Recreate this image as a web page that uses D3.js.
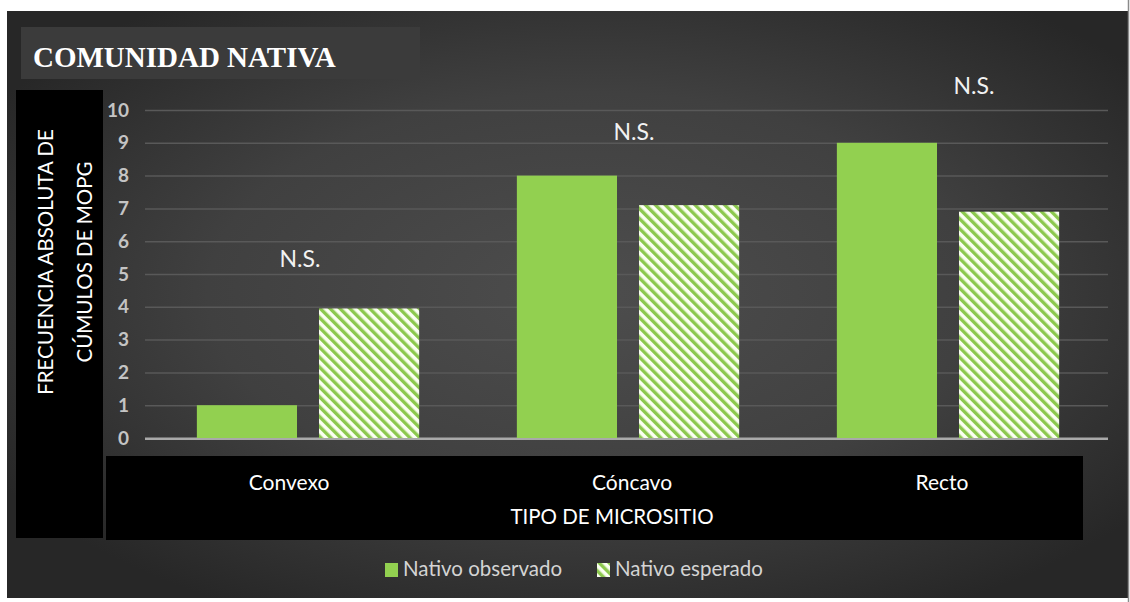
<!DOCTYPE html>
<html>
<head>
<meta charset="utf-8">
<script src="https://cdn.jsdelivr.net/npm/d3@7"></script>
<style>
  html, body { margin: 0; padding: 0; background: #ffffff; }
  svg { display: block; }
</style>
</head>
<body>
<script>
// Frequency of MOPG clusters per microsite type (native community)
const categories = ["Convexo", "Cóncavo", "Recto"];
const seriesNames = ["Nativo observado", "Nativo esperado"];
const observed = [1, 8, 9];
const expected = [3.95, 7.1, 6.9];
const yTicks = [0, 1, 2, 3, 4, 5, 6, 7, 8, 9, 10];
const significance = ["N.S.", "N.S.", "N.S."];
const significanceAt = [5.2, 9.1, 10.5];

const W = 1130, H = 602;
const green = "#92d050";
const sans = "Lato, 'Open Sans', sans-serif";

const svg = d3.select("body").append("svg")
  .attr("width", W).attr("height", H);

const defs = svg.append("defs");

// dark vignette background
const bg = defs.append("radialGradient")
  .attr("id", "bgGrad")
  .attr("cx", "52%").attr("cy", "48%").attr("r", "62%");
bg.append("stop").attr("offset", "0%").attr("stop-color", "#4d4d4d");
bg.append("stop").attr("offset", "55%").attr("stop-color", "#404040");
bg.append("stop").attr("offset", "100%").attr("stop-color", "#272727");

// wide downward-diagonal hatch for expected values
const hatch = defs.append("pattern")
  .attr("id", "hatch")
  .attr("patternUnits", "userSpaceOnUse")
  .attr("width", 7).attr("height", 7)
  .attr("patternTransform", "rotate(-45)");
hatch.append("rect").attr("width", 7).attr("height", 7).attr("fill", "#fbfff2");
hatch.append("rect").attr("width", 3.4).attr("height", 7).attr("fill", "#8cc84e");

// chart frame
svg.append("rect")
  .attr("x", 7).attr("y", 11).attr("width", 1121).attr("height", 587)
  .attr("fill", "url(#bgGrad)");
svg.append("line")
  .attr("x1", 1128.5).attr("x2", 1128.5).attr("y1", 0).attr("y2", H)
  .attr("stroke", "#8a8a8a").attr("stroke-width", 1.5);

// title box
svg.append("rect")
  .attr("x", 21).attr("y", 27).attr("width", 399).attr("height", 52)
  .attr("fill", "#3b3b3b");
svg.append("text")
  .attr("x", 33).attr("y", 67)
  .attr("font-family", "'Liberation Serif', 'Times New Roman', serif")
  .attr("font-weight", "bold")
  .attr("font-size", 29)
  .attr("fill", "#ffffff")
  .text("COMUNIDAD NATIVA");

// axis title panels
svg.append("rect")
  .attr("x", 16).attr("y", 90).attr("width", 87).attr("height", 448)
  .attr("fill", "#000000");
svg.append("rect")
  .attr("x", 106).attr("y", 456).attr("width", 977).attr("height", 84)
  .attr("fill", "#000000");

// scales
const x = d3.scaleBand().domain(categories).range([148, 1108]);
const xInner = d3.scaleBand().domain(seriesNames)
  .range([0, x.bandwidth()]).paddingInner(0.18).paddingOuter(0.4);
const y = d3.scaleLinear().domain([0, 10]).range([438, 110]);

// y axis with gridlines
const yAxis = svg.append("g")
  .attr("transform", "translate(145,0)")
  .call(d3.axisLeft(y).tickValues(yTicks).tickSize(-963).tickPadding(16));
yAxis.select(".domain").remove();
yAxis.selectAll(".tick line")
  .attr("stroke", d => d === 0 ? "#a9a9a9" : "#595959")
  .attr("stroke-width", d => d === 0 ? 2 : 1.5);
yAxis.selectAll(".tick text")
  .attr("fill", "#c4c4c4")
  .attr("font-family", sans)
  .attr("font-weight", "bold")
  .attr("font-size", 19);

// bars
const rows = categories.map((c, i) => ({
  category: c,
  values: [
    { series: seriesNames[0], value: observed[i] },
    { series: seriesNames[1], value: expected[i] }
  ]
}));

const groups = svg.append("g").selectAll("g")
  .data(rows).join("g")
  .attr("transform", d => `translate(${x(d.category)},0)`);

groups.selectAll("rect")
  .data(d => d.values).join("rect")
  .attr("x", d => xInner(d.series))
  .attr("width", xInner.bandwidth())
  .attr("y", d => y(d.value))
  .attr("height", d => y(0) - y(d.value))
  .attr("fill", d => d.series === seriesNames[0] ? green : "url(#hatch)");

// baseline drawn above the bars
svg.append("line")
  .attr("x1", 145).attr("x2", 1108)
  .attr("y1", y(0) + 1).attr("y2", y(0) + 1)
  .attr("stroke", "#a9a9a9").attr("stroke-width", 2);

// significance labels
const nsShift = [-8, 6, 26];
svg.append("g").selectAll("text")
  .data(categories).join("text")
  .attr("x", (d, i) => x(d) + x.bandwidth() / 2 + nsShift[i])
  .attr("y", (d, i) => y(significanceAt[i]))
  .attr("text-anchor", "middle")
  .attr("font-family", sans)
  .attr("font-size", 23)
  .attr("fill", "#f2f2f2")
  .text((d, i) => significance[i]);

// x axis labels
const labelShift = [-19, 4, -6];
const xAxis = svg.append("g")
  .attr("transform", "translate(0,456)")
  .call(d3.axisBottom(x).tickSize(0).tickPadding(19));
xAxis.select(".domain").remove();
xAxis.selectAll(".tick text")
  .attr("dx", (d, i) => labelShift[i])
  .attr("fill", "#ffffff")
  .attr("font-family", sans)
  .attr("font-size", 21);

svg.append("text")
  .attr("x", 612).attr("y", 524)
  .attr("text-anchor", "middle")
  .attr("font-family", sans)
  .attr("font-size", 20.5)
  .attr("fill", "#ffffff")
  .text("TIPO DE MICROSITIO");

// y axis title
const yTitle = svg.append("text")
  .attr("transform", "translate(53,262) rotate(-90)")
  .attr("text-anchor", "middle")
  .attr("font-family", sans)
  .attr("font-size", 20.5)
  .attr("fill", "#ffffff");
yTitle.append("tspan").attr("x", 0).attr("dy", 0).text("FRECUENCIA ABSOLUTA DE");
yTitle.append("tspan").attr("x", 0).attr("dy", 39).text("CÚMULOS DE MOPG");

// legend
const legendX = [385, 597];
const legend = svg.append("g").selectAll("g")
  .data(seriesNames).join("g")
  .attr("transform", (d, i) => `translate(${legendX[i]},563)`);
legend.append("rect")
  .attr("width", 13).attr("height", 14)
  .attr("fill", (d, i) => i === 0 ? green : "url(#hatch)");
legend.append("text")
  .attr("x", 18).attr("y", 13)
  .attr("font-family", sans)
  .attr("font-size", 20.5)
  .attr("fill", "#d4d4d4")
  .text(d => d);
</script>
</body>
</html>
